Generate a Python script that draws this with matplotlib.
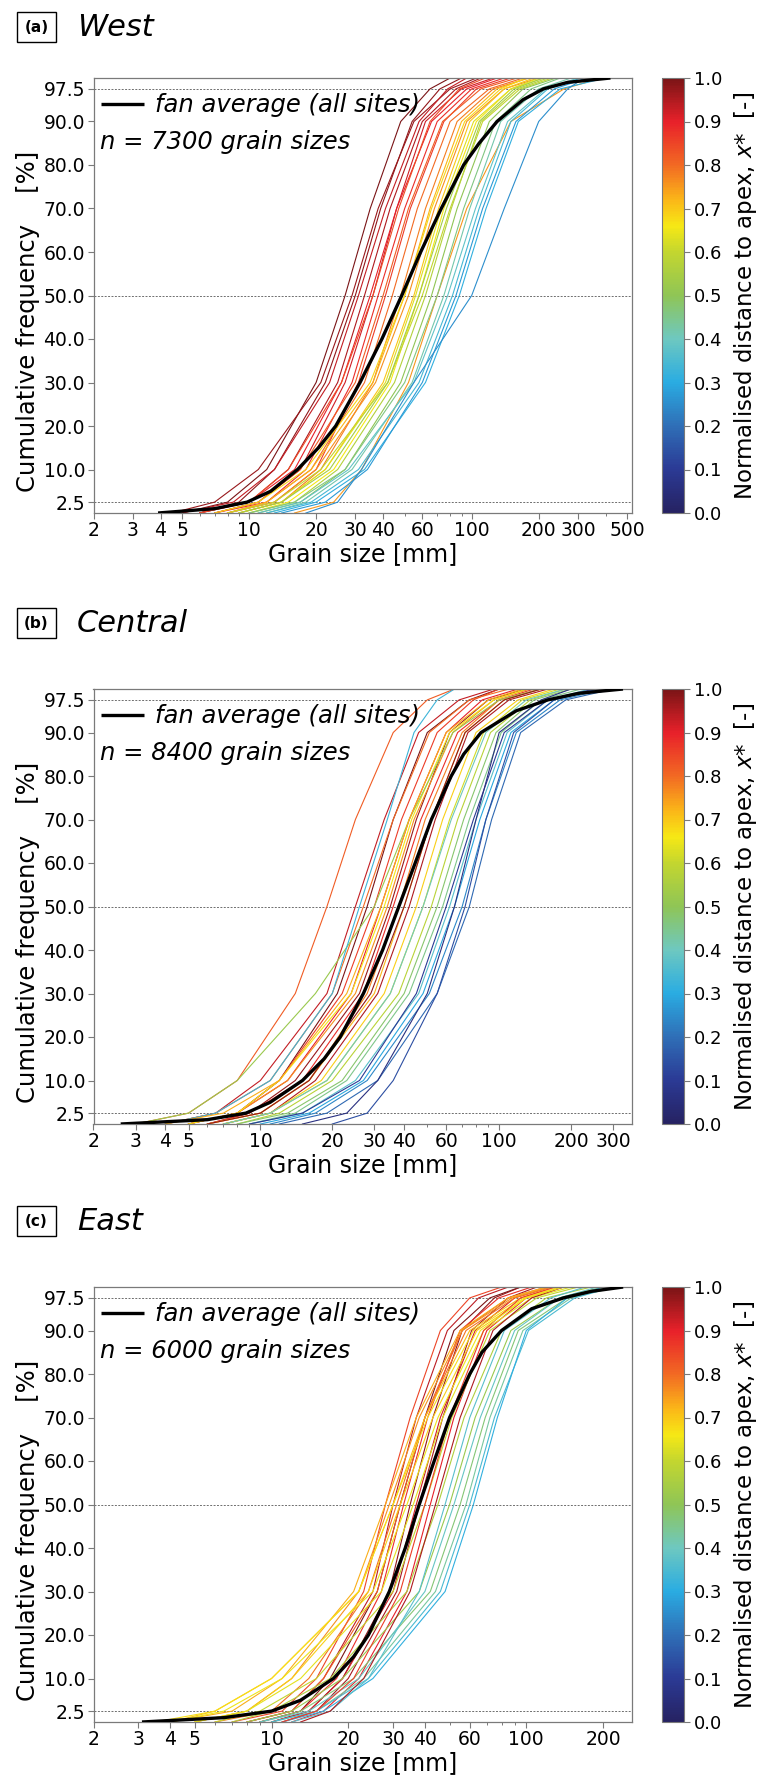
import matplotlib
matplotlib.use("Agg")
import matplotlib.pyplot as plt
from matplotlib.colors import LinearSegmentedColormap, Normalize
from matplotlib.cm import ScalarMappable
from matplotlib.patches import Rectangle
from matplotlib.ticker import FixedLocator, NullFormatter

plt.rcParams['font.family'] = ['DejaVu Sans']
plt.rcParams['mathtext.fontset'] = 'dejavusans'

# cumulative percentages at which each site curve was read
site_pct = [0, 2.5, 10, 30, 50, 70, 90, 97.5, 100]
avg_pct = [0, 1, 2.5, 5, 10, 15, 20, 30, 40, 50, 60, 70, 80, 85, 90, 95, 97.5, 99, 100]

y_ticks = [2.5, 10, 20, 30, 40, 50, 60, 70, 80, 90, 97.5]
ref_lines = [2.5, 50, 97.5]

# ---- West (grain size in mm at site_pct)
west_xstar = [1.00, 0.98, 0.97, 0.95, 0.93, 0.92, 0.90, 0.88, 0.86, 0.84, 0.82, 0.80, 0.78,
              0.76, 0.75, 0.72, 0.70, 0.68, 0.66, 0.63, 0.60, 0.57, 0.54, 0.50, 0.46, 0.42,
              0.38, 0.34, 0.31, 0.27, 0.25]
west_d = [
    [5, 8, 12, 20, 27, 35, 48, 65, 80],
    [6, 9, 13, 22, 30, 39, 54, 72, 90],
    [4.5, 7, 11, 21, 29, 38, 55, 80, 105],
    [6, 10, 15, 25, 33, 43, 60, 85, 110],
    [5, 8.5, 13, 23, 31, 41, 58, 78, 95],
    [7, 11, 17, 27, 36, 46, 62, 90, 125],
    [6, 10, 16, 26, 35, 46, 66, 95, 130],
    [7, 12, 18, 29, 38, 50, 70, 100, 140],
    [8, 13, 20, 31, 41, 53, 75, 105, 150],
    [6, 10, 15, 26, 36, 47, 65, 88, 115],
    [7, 11, 17, 30, 40, 52, 74, 110, 160],
    [8, 12, 19, 33, 44, 57, 80, 120, 170],
    [9, 14, 21, 36, 48, 62, 86, 125, 180],
    [8, 13, 20, 37, 52, 68, 95, 140, 200],
    [16, 24, 32, 52, 70, 95, 150, 260, 380],
    [8, 12, 19, 36, 50, 65, 90, 130, 180],
    [9, 14, 22, 40, 55, 71, 98, 140, 190],
    [7, 11, 18, 35, 50, 66, 93, 135, 175],
    [10, 15, 24, 43, 58, 75, 105, 150, 210],
    [9, 14, 22, 41, 56, 73, 102, 150, 200],
    [8, 13, 21, 42, 60, 80, 112, 165, 230],
    [10, 16, 25, 45, 62, 81, 110, 160, 220],
    [9, 14, 23, 42, 58, 77, 108, 155, 210],
    [11, 17, 27, 48, 66, 86, 120, 170, 240],
    [10, 16, 27, 50, 70, 92, 128, 185, 250],
    [12, 18, 29, 54, 75, 98, 135, 200, 280],
    [11, 17, 28, 55, 78, 104, 145, 215, 300],
    [12, 19, 31, 58, 82, 108, 150, 220, 310],
    [13, 20, 33, 62, 88, 116, 162, 250, 400],
    [14, 22, 34, 60, 85, 112, 158, 235, 330],
    [18, 25, 32, 55, 100, 140, 200, 270, 320],
]
west_avg = [3.9, 7, 9.8, 12.5, 16.5, 20.5, 24.5, 31.5, 39.5, 48.5, 59, 73, 92, 108, 130,
            170, 210, 270, 420]

# ---- Central
central_xstar = [1.00, 0.97, 0.95, 0.93, 0.82, 0.90, 0.88, 0.86, 0.80, 0.78, 0.76, 0.72, 0.69,
                 0.66, 0.62, 0.58, 0.52, 0.48, 0.45, 0.41, 0.37, 0.33, 0.29, 0.24, 0.19, 0.14,
                 0.10, 0.06, 0.98, 0.73]
central_d = [
    [5, 8, 12, 21, 28, 36, 50, 75, 100],
    [6, 9, 14, 26, 35, 45, 62, 90, 130],
    [7, 11, 17, 31, 42, 54, 74, 110, 160],
    [4, 6.5, 10, 19, 25, 33, 46, 68, 95],
    [3, 5, 8, 14, 19, 25, 36, 50, 65],
    [5, 8, 13, 24, 32, 42, 60, 85, 120],
    [6, 9, 15, 27, 36, 47, 67, 100, 140],
    [5, 8, 12, 22, 30, 39, 55, 78, 100],
    [4, 6.5, 11, 20, 27, 36, 51, 75, 110],
    [6, 10, 16, 28, 38, 49, 70, 100, 150],
    [5, 8, 13, 25, 34, 44, 64, 95, 135],
    [6, 10, 16, 30, 40, 52, 72, 105, 150],
    [7, 11, 18, 33, 45, 58, 80, 120, 170],
    [5, 8, 12, 24, 33, 43, 62, 95, 130],
    [7, 11, 19, 35, 48, 62, 86, 125, 180],
    [8, 12, 20, 38, 52, 67, 92, 135, 190],
    [3, 5, 8, 17, 30, 42, 64, 100, 150],
    [8, 13, 22, 40, 55, 71, 97, 140, 200],
    [9, 14, 23, 42, 58, 75, 102, 150, 220],
    [7, 11, 19, 35, 48, 63, 88, 130, 190],
    [9, 15, 25, 46, 62, 80, 108, 160, 240],
    [4, 6.5, 11, 20, 26, 34, 44, 55, 65],
    [10, 16, 27, 48, 65, 83, 112, 170, 260],
    [11, 17, 28, 51, 70, 88, 118, 180, 280],
    [12, 19, 31, 55, 75, 93, 123, 190, 300],
    [20, 28, 36, 55, 72, 88, 115, 170, 260],
    [9, 15, 26, 45, 60, 78, 105, 160, 250],
    [15, 23, 31, 50, 65, 80, 100, 150, 200],
    [6, 10, 16, 29, 40, 52, 72, 105, 150],
    [4, 7, 12, 23, 32, 42, 60, 90, 125],
]
central_avg = [2.6, 6, 8.7, 11, 15, 18.5, 21.6, 27, 32.5, 38, 44.5, 52, 63, 71, 84,
               118, 160, 215, 330]

# ---- East
east_xstar = [1.00, 0.98, 0.96, 0.94, 0.92, 0.90, 0.88, 0.85, 0.82, 0.79, 0.76, 0.73, 0.71,
              0.69, 0.67, 0.64, 0.60, 0.56, 0.52, 0.47, 0.43, 0.39, 0.35, 0.31, 0.37, 0.86,
              0.95, 0.65]
east_d = [
    [9, 13, 17, 26, 32, 40, 52, 72, 95],
    [10, 14, 19, 29, 35, 43, 56, 75, 95],
    [11, 15, 20, 31, 38, 47, 61, 85, 110],
    [8, 12, 16, 25, 30, 37, 49, 65, 85],
    [10, 14, 19, 30, 37, 46, 63, 90, 125],
    [12, 16, 22, 34, 42, 52, 70, 100, 140],
    [9, 13, 18, 27, 33, 41, 55, 78, 105],
    [7, 11, 15, 23, 28, 35, 46, 60, 80],
    [8, 12, 16, 26, 32, 40, 56, 85, 120],
    [6, 10, 14, 24, 31, 40, 58, 90, 125],
    [5, 8, 12, 22, 29, 38, 56, 88, 125],
    [4, 7, 11, 21, 28, 37, 55, 85, 120],
    [4, 6, 10, 22, 30, 40, 60, 95, 130],
    [5, 8, 12, 24, 32, 43, 64, 100, 140],
    [3.5, 6, 10, 22, 30, 41, 62, 98, 135],
    [5, 8, 13, 27, 36, 47, 68, 105, 150],
    [6, 9, 15, 30, 40, 51, 72, 110, 160],
    [7, 10, 17, 34, 45, 57, 80, 120, 180],
    [8, 12, 19, 38, 50, 63, 87, 135, 200],
    [9, 13, 21, 42, 55, 69, 93, 145, 230],
    [10, 15, 23, 44, 58, 72, 97, 150, 210],
    [9, 14, 22, 40, 52, 66, 90, 135, 190],
    [10, 15, 24, 46, 60, 75, 102, 155, 220],
    [11, 16, 25, 48, 62, 77, 100, 145, 200],
    [12, 17, 24, 38, 48, 60, 82, 125, 170],
    [11, 15, 21, 32, 40, 50, 68, 95, 130],
    [13, 17, 23, 35, 44, 55, 74, 105, 140],
    [4, 6.5, 11, 25, 34, 45, 66, 100, 140],
]
east_avg = [3.1, 6.5, 10, 13, 17.5, 21, 24, 29, 33.5, 38, 43.5, 50, 60, 67, 80,
            105, 140, 180, 240]

panel_tags = ["(a)", "(b)", "(c)"]
panel_names = ["West", "Central", "East"]
panel_n = [7300, 8400, 6000]
panel_xmax = [525, 360, 260]
panel_xticks = [
    [2, 3, 4, 5, 10, 20, 30, 40, 60, 100, 200, 300, 500],
    [2, 3, 4, 5, 10, 20, 30, 40, 60, 100, 200, 300],
    [2, 3, 4, 5, 10, 20, 30, 40, 60, 100, 200],
]

cmap_pos = [0.0, 0.1, 0.2, 0.3, 0.4, 0.5, 0.6, 0.66, 0.72, 0.8, 0.9, 1.0]
cmap_col = ['#262262', '#2b3a95', '#2f6fb7', '#2aace2', '#6ec8c0', '#8fc556', '#c3d62f',
            '#f6e815', '#fbb718', '#f26a23', '#e8212a', '#7a1416']
cmap = LinearSegmentedColormap.from_list("apex", list(zip(cmap_pos, cmap_col)))
norm = Normalize(0, 1)

W, H = 784, 1777
fig = plt.figure(figsize=(W / 100, H / 100), dpi=100)

def fbox(left, top, right, bottom):
    return [left / W, 1 - bottom / H, (right - left) / W, (bottom - top) / H]

panel_top = [78, 689, 1287]
title_y = [27, 623, 1221]
GRAY = '#7a7a7a'

def draw_panel(i, xstar, dvals, avg):
    top = panel_top[i]
    ax = fig.add_axes(fbox(93.5, top, 632, top + 435))
    cax = fig.add_axes(fbox(662, top, 684, top + 435))

    for p in ref_lines:
        ax.axhline(p, color='#6e6e6e', lw=0.7, ls=(0, (2, 1.5)), zorder=1)
    for xs, d in zip(xstar, dvals):
        ax.plot(d, site_pct, color=cmap(norm(xs)), lw=0.8, zorder=2)
    ax.plot(avg, avg_pct, color='black', lw=2.4, zorder=3, solid_capstyle='butt')

    ax.set_xscale('log')
    ax.set_xlim(2, panel_xmax[i])
    ax.set_ylim(0, 100)
    ticks = panel_xticks[i]
    ax.xaxis.set_major_locator(FixedLocator(ticks))
    ax.set_xticklabels([str(t) for t in ticks])
    minor = [m * 10 ** k for k in range(0, 3) for m in range(1, 10)
             if m * 10 ** k not in ticks and 2 < m * 10 ** k < panel_xmax[i]]
    ax.xaxis.set_minor_locator(FixedLocator(minor))
    ax.xaxis.set_minor_formatter(NullFormatter())
    ax.set_yticks(y_ticks)
    ax.set_yticklabels(["%.1f" % t for t in y_ticks])
    ax.tick_params(axis='both', which='major', labelsize=13.5, length=4, width=0.8,
                   color=GRAY, pad=2)
    ax.tick_params(axis='x', which='minor', length=2.5, width=0.7, color=GRAY)
    for s in ax.spines.values():
        s.set_color(GRAY)
        s.set_linewidth(0.9)

    ax.set_xlabel("Grain size [mm]", fontsize=17, labelpad=1)
    ax.set_ylabel("Cumulative frequency    [%]", fontsize=17.5)
    ax.yaxis.set_label_coords(-0.1, 0.44)

    # legend entry and sample size
    ax.plot([0.013, 0.093], [0.94, 0.94], color='black', lw=2.4, transform=ax.transAxes,
            solid_capstyle='butt')
    ax.text(0.114, 0.937, "fan average (all sites)", transform=ax.transAxes, fontsize=17.5,
            style='italic', va='center', ha='left')
    ax.text(0.012, 0.853, "n = %d grain sizes" % panel_n[i], transform=ax.transAxes,
            fontsize=17.5, style='italic', va='center', ha='left')

    cb = fig.colorbar(ScalarMappable(norm=norm, cmap=cmap), cax=cax)
    cb.set_ticks([k / 10 for k in range(11)])
    cb.set_ticklabels(["%.1f" % (k / 10) for k in range(11)])
    cb.ax.tick_params(labelsize=13, length=4, width=0.8, color=GRAY, pad=3)
    cb.outline.set_edgecolor(GRAY)
    cb.outline.set_linewidth(0.8)
    cb.set_label(r"Normalised distance to apex, $x$*  [-]", fontsize=16.5, labelpad=7)

    # panel tag and title
    ty = title_y[i]
    fig.patches.append(Rectangle((17 / W, 1 - (ty + 15) / H), 39 / W, 30 / H,
                                 transform=fig.transFigure, fill=False, ec='black', lw=1.0))
    fig.text(36.5 / W, 1 - ty / H, panel_tags[i], fontsize=11, fontweight='bold',
             ha='center', va='center')
    fig.text(77 / W, 1 - ty / H, panel_names[i], fontsize=22, style='italic',
             ha='left', va='center')


draw_panel(0, west_xstar, west_d, west_avg)
draw_panel(1, central_xstar, central_d, central_avg)
draw_panel(2, east_xstar, east_d, east_avg)

fig.savefig("out.png", dpi=100)
